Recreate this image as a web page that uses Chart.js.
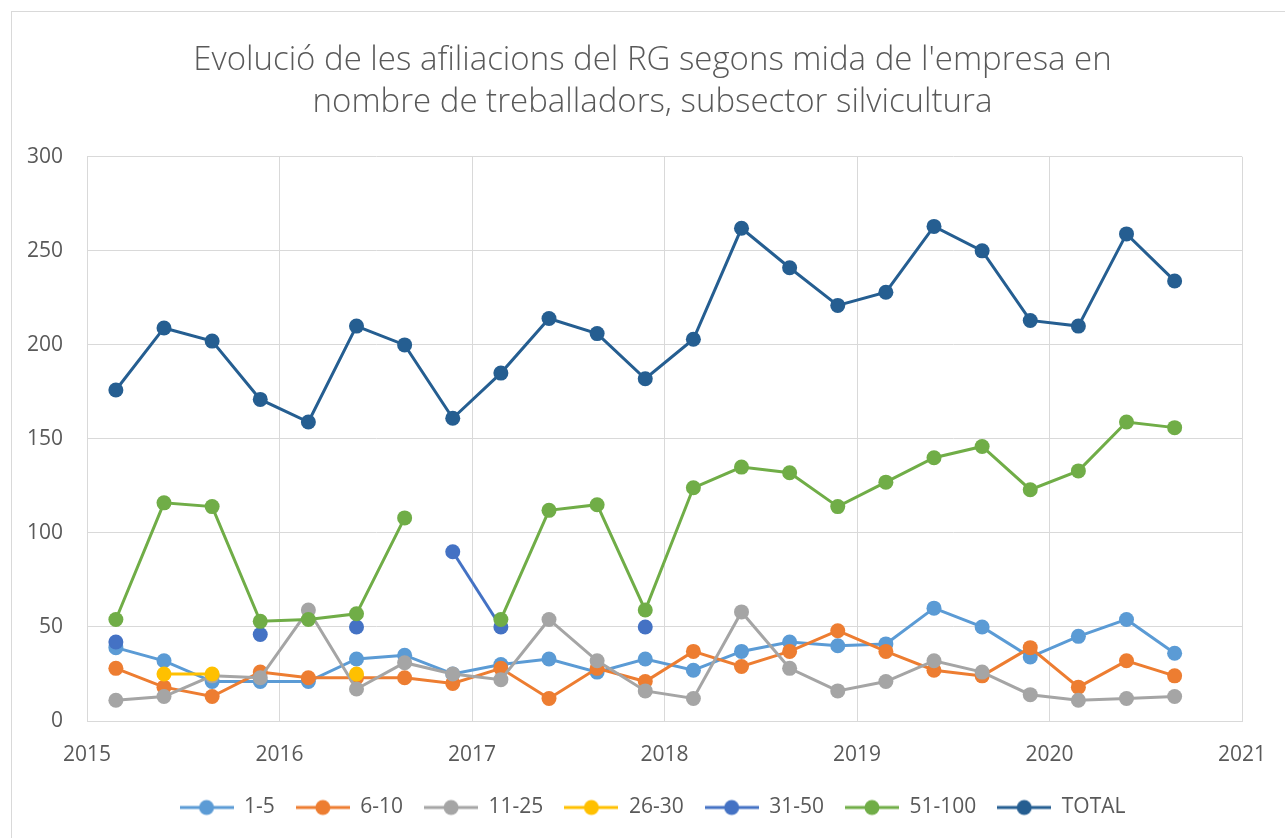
<!DOCTYPE html>
<html>
<head>
<meta charset="utf-8">
<script src="https://cdn.jsdelivr.net/npm/chart.js@4.4.0/dist/chart.umd.min.js"></script>
<style>
  html, body { margin: 0; padding: 0; background: #fff; overflow: hidden; }
  #marc { position: absolute; left: 11px; top: 11px; width: 1300px; height: 900px; border: 1px solid #d9d9d9; }
  #caixa { position: absolute; left: 0; top: 0; width: 1305px; height: 838px; }
</style>
</head>
<body>
<div id="marc"></div>
<div id="caixa"><canvas id="grafic" width="1305" height="838"></canvas></div>
<script>
// dates dels trimestres (any decimal)
const xAnys = [2015.15, 2015.40, 2015.65, 2015.90, 2016.15, 2016.40, 2016.65, 2016.90,
  2017.15, 2017.40, 2017.65, 2017.90, 2018.15, 2018.40, 2018.65, 2018.90,
  2019.15, 2019.40, 2019.65, 2019.90, 2020.15, 2020.40, 2020.65];

const serie1a5 = [39, 32, 21, 21, 21, 33, 35, 25, 30, 33, 26, 33, 27, 37, 42, 40, 41, 60, 50, 34, 45, 54, 36];
const serie6a10 = [28, 18, 13, 26, 23, 23, 23, 20, 28, 12, 28, 21, 37, 29, 37, 48, 37, 27, 24, 39, 18, 32, 24];
const serie11a25 = [11, 13, 24, 23, 59, 17, 31, 25, 22, 54, 32, 16, 12, 58, 28, 16, 21, 32, 26, 14, 11, 12, 13];
const serie26a30 = [null, 25, 25, null, null, 25, null, null, null, null, null, null, null, null, null, null, null, null, null, null, null, null, null];
const serie31a50 = [42, null, null, 46, null, 50, null, 90, 50, null, null, 50, null, null, null, null, null, null, null, null, null, null, null];
const serie51a100 = [54, 116, 114, 53, 54, 57, 108, null, 54, 112, 115, 59, 124, 135, 132, 114, 127, 140, 146, 123, 133, 159, 156];
const serieTotal = [176, 209, 202, 171, 159, 210, 200, 161, 185, 214, 206, 182, 203, 262, 241, 221, 228, 263, 250, 213, 210, 259, 234];

const etiquetes = ['1-5', '6-10', '11-25', '26-30', '31-50', '51-100', 'TOTAL'];
const series = [serie1a5, serie6a10, serie11a25, serie26a30, serie31a50, serie51a100, serieTotal];
const colors = ['#5B9BD5', '#ED7D31', '#A5A5A5', '#FFC000', '#4472C4', '#70AD47', '#255E91'];

const titol = ["Evolució de les afiliacions del RG segons mida de l'empresa en",
  'nombre de treballadors, subsector silvicultura'];

const colorText = '#595959';
const colorGraella = '#d9d9d9';

// icona de la llegenda: línia amb punt al mig
function iconaLlegenda(color) {
  const c = document.createElement('canvas');
  c.width = 54;
  c.height = 18;
  const ctx = c.getContext('2d');
  ctx.strokeStyle = color;
  ctx.lineWidth = 3;
  ctx.beginPath();
  ctx.moveTo(0, 9);
  ctx.lineTo(54, 9);
  ctx.stroke();
  ctx.fillStyle = color;
  ctx.beginPath();
  ctx.arc(27, 9, 7.5, 0, Math.PI * 2);
  ctx.fill();
  return c;
}
const icones = colors.map(iconaLlegenda);

const datasets = etiquetes.map((nom, i) => ({
  label: nom,
  data: series[i].map((v, j) => ({ x: xAnys[j], y: v })),
  borderColor: colors[i],
  backgroundColor: colors[i],
  borderWidth: 3,
  pointRadius: 7.5,
  pointBorderWidth: 0,
  pointBackgroundColor: colors[i],
  spanGaps: false,
  tension: 0,
  order: etiquetes.length - i // l'última sèrie queda a sobre
}));

new Chart(document.getElementById('grafic'), {
  type: 'line',
  data: { datasets },
  options: {
    responsive: false,
    animation: false,
    devicePixelRatio: 1,
    layout: { padding: { left: 0, right: 0, top: 40, bottom: 10 } },
    plugins: {
      title: {
        display: true,
        text: titol,
        color: colorText,
        font: { family: 'Open Sans', size: 33, weight: '300', lineHeight: 1.27 },
        padding: { top: 0, bottom: 33 }
      },
      legend: {
        position: 'bottom',
        labels: {
          usePointStyle: true,
          pointStyleWidth: 54,
          color: colorText,
          font: { family: 'Open Sans', size: 21 },
          padding: 21,
          sort: (a, b) => a.datasetIndex - b.datasetIndex,
          generateLabels: chart => Chart.defaults.plugins.legend.labels.generateLabels(chart).map(item => {
            item.pointStyle = icones[item.datasetIndex];
            return item;
          })
        }
      },
      tooltip: { enabled: false }
    },
    scales: {
      x: {
        type: 'linear',
        min: 2015,
        max: 2021,
        afterFit: s => { s.height = 55; },
        ticks: {
          stepSize: 1,
          color: colorText,
          font: { family: 'Open Sans', size: 21 },
          padding: 21,
          callback: v => String(v)
        },
        grid: { color: colorGraella, drawTicks: false },
        border: { color: colorGraella }
      },
      y: {
        min: 0,
        max: 300,
        afterFit: s => { s.width = 87; },
        ticks: {
          stepSize: 50,
          color: colorText,
          font: { family: 'Open Sans', size: 21 },
          padding: 24
        },
        grid: { color: colorGraella, drawTicks: false },
        border: { color: colorGraella }
      },
      // eix buit a la dreta, només per reservar marge
      dreta: {
        position: 'right',
        min: 0,
        max: 300,
        afterFit: s => { s.width = 63; },
        ticks: { display: false },
        grid: { display: false },
        border: { display: false }
      }
    }
  }
});
</script>
</body>
</html>
